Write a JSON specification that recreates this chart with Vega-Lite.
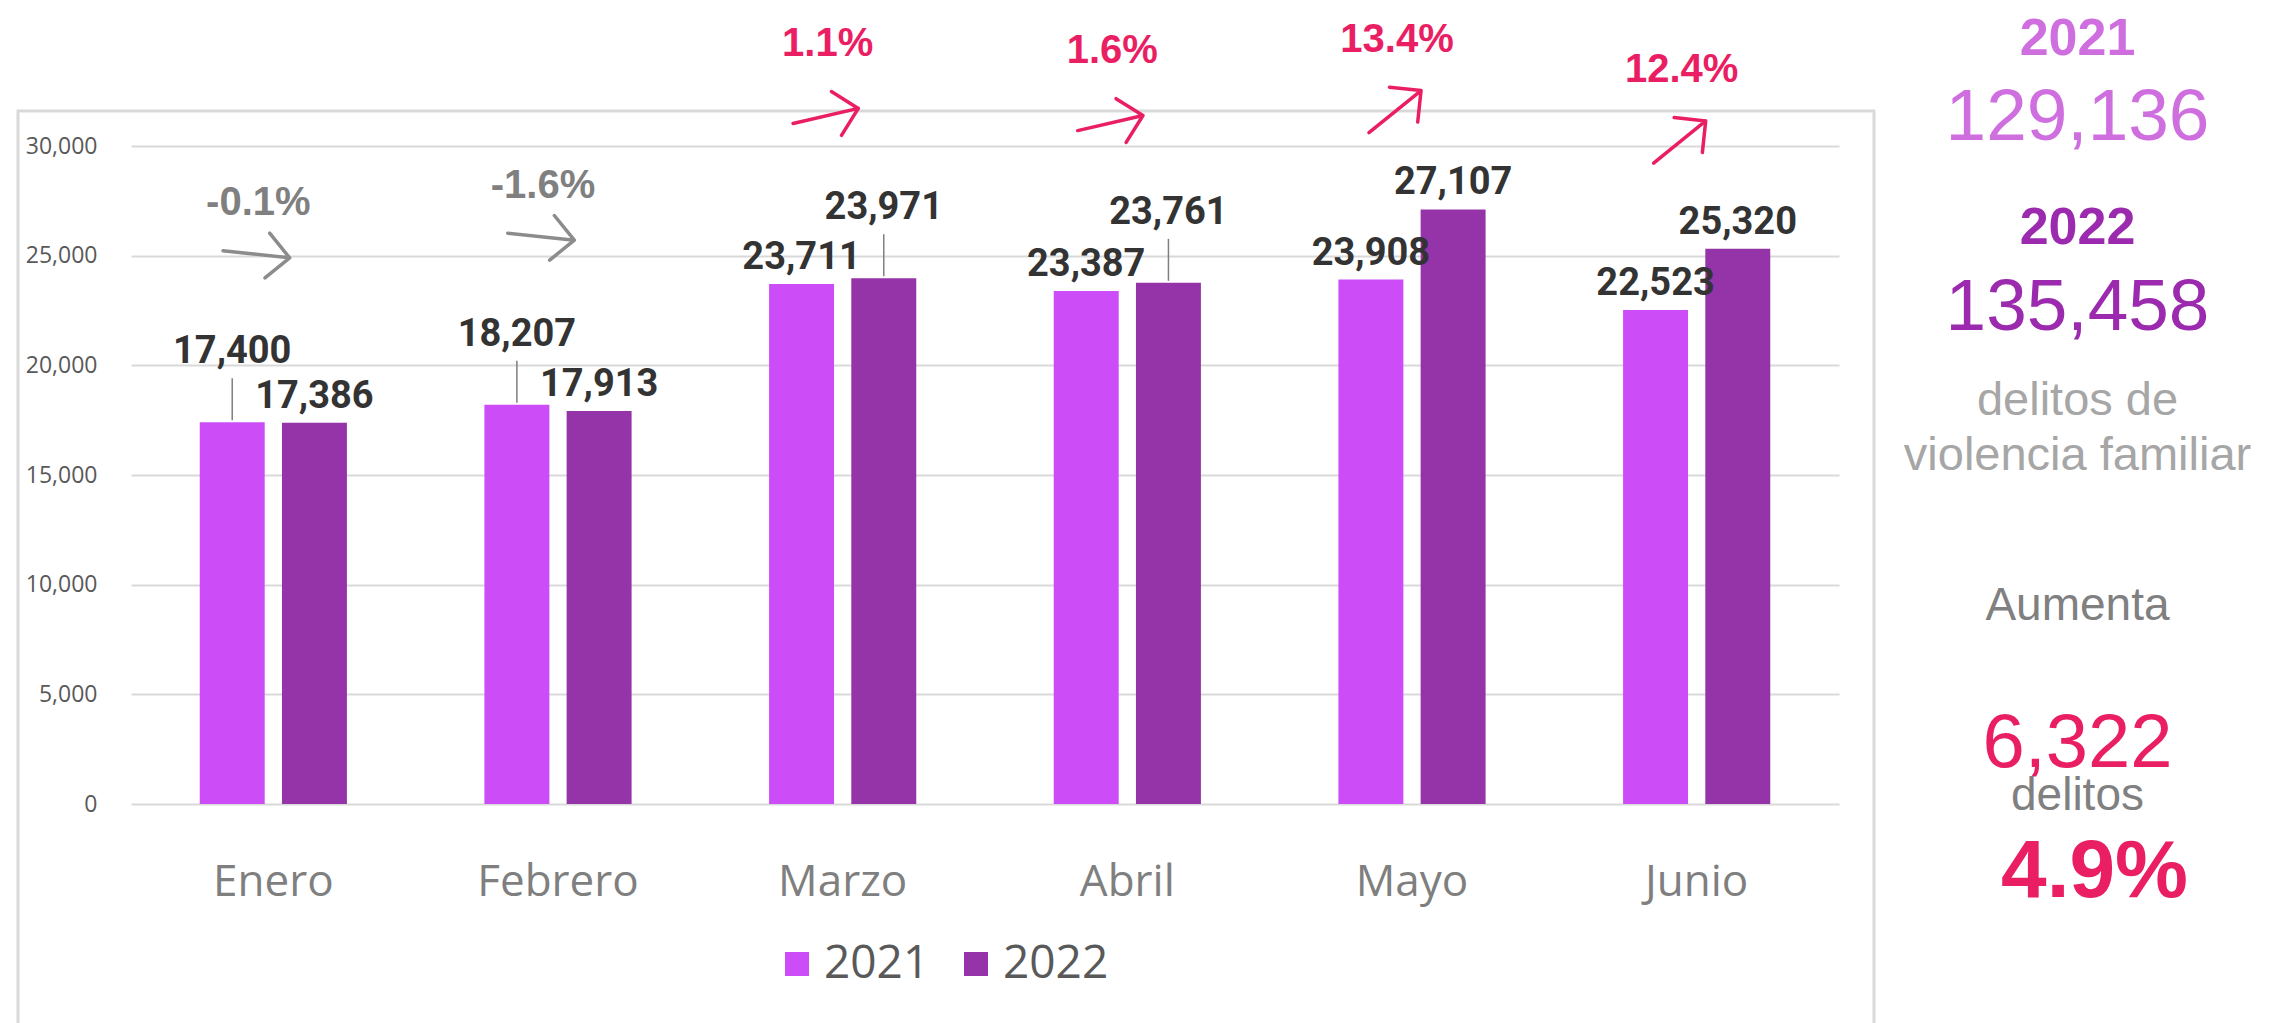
{
  "$schema": "https://vega.github.io/schema/vega-lite/v6.json",
  "background": "white",
  "padding": {"left": 16, "top": 13, "right": 0, "bottom": 0},
  "bounds": "flush",
  "spacing": 0,
  "datasets": {
    "mensual": [
      {"mes": "Enero", "2021": 17400, "2022": 17386, "cambio": -0.001},
      {"mes": "Febrero", "2021": 18207, "2022": 17913, "cambio": -0.016},
      {"mes": "Marzo", "2021": 23711, "2022": 23971, "cambio": 0.011},
      {"mes": "Abril", "2021": 23387, "2022": 23761, "cambio": 0.016},
      {"mes": "Mayo", "2021": 23908, "2022": 27107, "cambio": 0.134},
      {"mes": "Junio", "2021": 22523, "2022": 25320, "cambio": 0.124}
    ],
    "resumen": [
      {"total2021": 129136, "total2022": 135458, "aumento": 6322, "pct": 0.049}
    ]
  },
  "resolve": {"legend": {"color": "independent"}},
  "hconcat": [
    {
      "width": 1856,
      "height": 920,
      "view": {"stroke": "#d9d9d9", "strokeWidth": 3},
      "data": {"name": "mensual"},
      "encoding": {
        "x": {
          "field": "mes",
          "type": "nominal",
          "sort": ["Enero", "Febrero", "Marzo", "Abril", "Mayo", "Junio"],
          "scale": {"range": [113, 1821], "paddingInner": 0.483, "paddingOuter": 0.2415},
          "axis": {
            "title": null,
            "domain": false,
            "ticks": false,
            "tickSize": 0,
            "grid": false,
            "labelAngle": 0,
            "labelFont": "Open Sans",
            "labelFontSize": 44,
            "labelColor": "#7f7f7f",
            "labelBaseline": "alphabetic",
            "labelPadding": 91,
            "offset": -227
          }
        },
        "y": {
          "field": "valor",
          "type": "quantitative",
          "scale": {"domain": [0, 30000], "range": [693, 35], "nice": false, "zero": true},
          "axis": {
            "title": null,
            "domain": false,
            "ticks": false,
            "tickSize": 0,
            "labelPadding": 0,
            "offset": -79,
            "values": [0, 5000, 10000, 15000, 20000, 25000, 30000],
            "format": ",d",
            "labelFont": "Open Sans",
            "labelFontSize": 23,
            "labelColor": "#595959",
            "grid": true,
            "gridColor": "#d9d9d9",
            "gridWidth": 2
          }
        }
      },
      "layer": [
        {
          "transform": [{"fold": ["2021", "2022"], "as": ["anio", "valor"]}],
          "mark": {"type": "bar"},
          "encoding": {
            "xOffset": {"field": "anio", "type": "nominal", "sort": ["2021", "2022"], "scale": {"paddingInner": 0.21, "paddingOuter": 0}},
            "color": {
              "field": "anio",
              "type": "nominal",
              "scale": {"domain": ["2021", "2022"], "range": ["#CC4CF7", "#9434A8"]},
              "legend": {
                "title": null,
                "orient": "none",
                "legendX": 756,
                "legendY": 830,
                "direction": "horizontal",
                "padding": 0,
                "symbolType": "square",
                "symbolSize": 576,
                "symbolStrokeWidth": 0,
                "symbolOpacity": 1,
                "labelFont": "Open Sans",
                "labelFontSize": 46,
                "labelColor": "#595959",
                "labelOffset": 4,
                "columnPadding": 23
              }
            }
          }
        },
        {
          "transform": [
            {"fold": ["2021", "2022"], "as": ["anio", "valor"]},
            {"filter": "abs(datum.cambio) < 0.05 && datum.valor == max(datum['2021'], datum['2022'])"}
          ],
          "mark": {"type": "rule", "color": "#7f7f7f", "strokeWidth": 1.5, "yOffset": -2, "y2Offset": -44},
          "encoding": {
            "xOffset": {"field": "anio", "type": "nominal", "sort": ["2021", "2022"]},
            "y2": {"field": "valor"}
          }
        },
        {
          "transform": [
            {"fold": ["2021", "2022"], "as": ["anio", "valor"]},
            {"filter": "!(abs(datum.cambio) < 0.05 && datum.valor == max(datum['2021'], datum['2022']))"}
          ],
          "mark": {"type": "text", "font": "Roboto", "fontWeight": "bold", "fontSize": 38, "color": "#333333", "baseline": "alphabetic", "align": "center", "dy": -15},
          "encoding": {
            "xOffset": {"field": "anio", "type": "nominal", "sort": ["2021", "2022"]},
            "text": {"field": "valor", "type": "quantitative", "format": ",d"}
          }
        },
        {
          "transform": [
            {"fold": ["2021", "2022"], "as": ["anio", "valor"]},
            {"filter": "abs(datum.cambio) < 0.05 && datum.valor == max(datum['2021'], datum['2022'])"}
          ],
          "mark": {"type": "text", "font": "Roboto", "fontWeight": "bold", "fontSize": 38, "color": "#333333", "baseline": "alphabetic", "align": "center", "dy": -59},
          "encoding": {
            "xOffset": {"field": "anio", "type": "nominal", "sort": ["2021", "2022"]},
            "text": {"field": "valor", "type": "quantitative", "format": ",d"}
          }
        },
        {
          "transform": [{"filter": "datum.cambio < 0"}],
          "mark": {"type": "text", "font": "Liberation Sans", "fontWeight": "bold", "fontSize": 40, "color": "#808080", "baseline": "alphabetic", "align": "center", "dx": -15, "dy": -207},
          "encoding": {
            "y": {"field": "2021", "type": "quantitative"},
            "text": {"field": "cambio", "type": "quantitative", "format": ".1%"}
          }
        },
        {
          "transform": [{"filter": "datum.cambio >= 0"}],
          "mark": {"type": "text", "font": "Liberation Sans", "fontWeight": "bold", "fontSize": 40, "color": "#E91E63", "baseline": "alphabetic", "align": "center", "dx": -15, "dy": -228},
          "encoding": {
            "y": {"field": "2021", "type": "quantitative"},
            "text": {"field": "cambio", "type": "quantitative", "format": ".1%"}
          }
        },
        {
          "mark": {"type": "point", "shape": "M-1,0L1,0M0.33,-0.67L1,0L0.33,0.67", "filled": false, "size": 4489, "strokeWidth": 3.5, "strokeCap": "round", "strokeJoin": "round", "opacity": 1, "xOffset": -17, "yOffset": -168},
          "encoding": {
            "y": {"field": "2021", "type": "quantitative"},
            "angle": {"field": "cambio", "type": "quantitative", "scale": {"type": "threshold", "domain": [0, 0.05], "range": [6, -13, -39]}, "legend": null},
            "stroke": {"field": "cambio", "type": "quantitative", "scale": {"type": "threshold", "domain": [0], "range": ["#8c8c8c", "#E91E63"]}, "legend": null}
          }
        }
      ]
    },
    {
      "width": 407,
      "height": 920,
      "view": {"stroke": null},
      "data": {"name": "resumen"},
      "layer": [
        {
          "mark": {"type": "text", "text": "2021", "font": "Liberation Sans", "fontWeight": "bold", "fontSize": 52, "color": "#CF6FDF", "baseline": "alphabetic", "align": "center", "dy": -516}
        },
        {
          "mark": {"type": "text", "font": "Liberation Sans", "fontSize": 73, "color": "#CF6FDF", "baseline": "alphabetic", "align": "center", "dy": -431},
          "encoding": {"text": {"field": "total2021", "type": "quantitative", "format": ",d"}}
        },
        {
          "mark": {"type": "text", "text": "2022", "font": "Liberation Sans", "fontWeight": "bold", "fontSize": 52, "color": "#9B2AAE", "baseline": "alphabetic", "align": "center", "dy": -327}
        },
        {
          "mark": {"type": "text", "font": "Liberation Sans", "fontSize": 73, "color": "#9B2AAE", "baseline": "alphabetic", "align": "center", "dy": -241},
          "encoding": {"text": {"field": "total2022", "type": "quantitative", "format": ",d"}}
        },
        {
          "mark": {"type": "text", "text": ["delitos de", "violencia familiar"], "lineHeight": 55, "font": "Liberation Sans", "fontSize": 47, "color": "#A6A6A6", "baseline": "alphabetic", "align": "center", "dy": -156}
        },
        {
          "mark": {"type": "text", "text": "Aumenta", "font": "Liberation Sans", "fontSize": 46, "color": "#808080", "baseline": "alphabetic", "align": "center", "dy": 49}
        },
        {
          "mark": {"type": "text", "font": "Liberation Sans", "fontSize": 76, "color": "#E91E63", "baseline": "alphabetic", "align": "center", "dy": 196},
          "encoding": {"text": {"field": "aumento", "type": "quantitative", "format": ",d"}}
        },
        {
          "mark": {"type": "text", "text": "delitos", "font": "Liberation Sans", "fontSize": 46, "color": "#808080", "baseline": "alphabetic", "align": "center", "dy": 239}
        },
        {
          "mark": {"type": "text", "font": "Liberation Sans", "fontWeight": "bold", "fontSize": 82, "color": "#E91E63", "baseline": "alphabetic", "align": "center", "dx": 17, "dy": 326},
          "encoding": {"text": {"field": "pct", "type": "quantitative", "format": ".1%"}}
        }
      ]
    }
  ],
  "config": {
    "view": {"stroke": null},
    "locale": {
      "number": {"decimal": ".", "thousands": ",", "grouping": [3], "currency": ["$", ""], "minus": "-"}
    }
  }
}
